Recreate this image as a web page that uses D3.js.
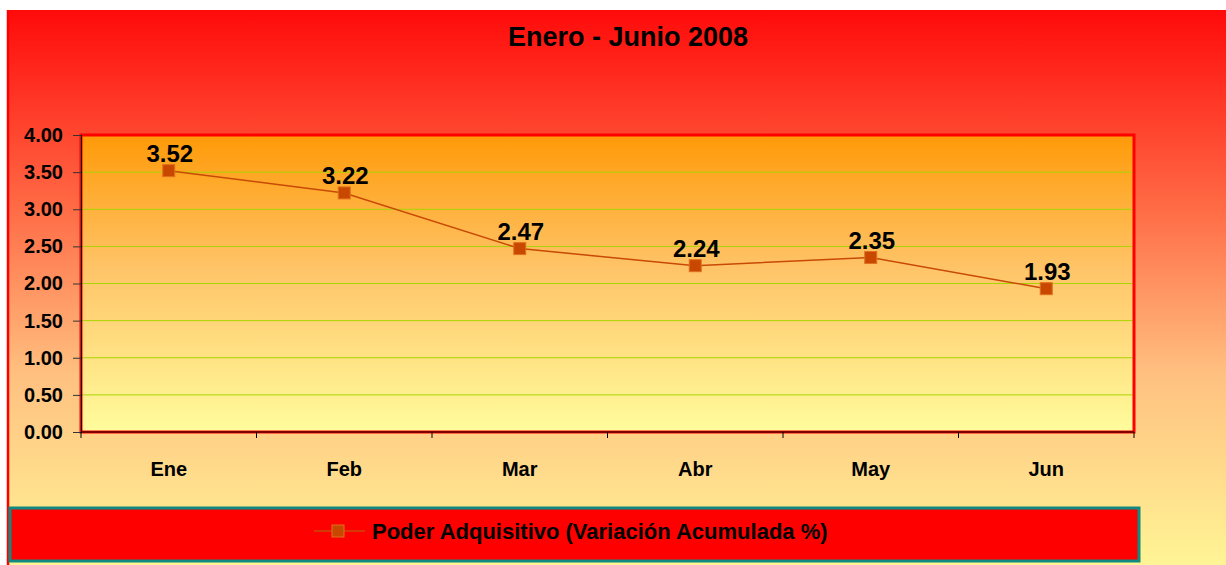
<!DOCTYPE html>
<html>
<head>
<meta charset="utf-8">
<script src="https://cdn.jsdelivr.net/npm/d3@7"></script>
<style>
  body { margin: 0; background: #fff; }
  svg { display: block; font-family: Arial, "Liberation Sans", sans-serif; }
</style>
</head>
<body>
<svg id="chart" width="1226" height="565"></svg>
<script>
var title = "Enero - Junio 2008";
var seriesName = "Poder Adquisitivo (Variación Acumulada %)";
var months = ["Ene", "Feb", "Mar", "Abr", "May", "Jun"];
var values = [3.52, 3.22, 2.47, 2.24, 2.35, 1.93];
var yTicks = [0, 0.5, 1, 1.5, 2, 2.5, 3, 3.5, 4];

var svg = d3.select("#chart");
var defs = svg.append("defs");

var bgGrad = defs.append("linearGradient")
    .attr("id", "bg").attr("x1", 0).attr("y1", 0).attr("x2", 0).attr("y2", 1);
bgGrad.append("stop").attr("offset", "0%").attr("stop-color", "#ff0a0a");
bgGrad.append("stop").attr("offset", "35%").attr("stop-color", "#ff6a45");
bgGrad.append("stop").attr("offset", "65%").attr("stop-color", "#ffc080");
bgGrad.append("stop").attr("offset", "100%").attr("stop-color", "#fff696");

var plotGrad = defs.append("linearGradient")
    .attr("id", "plotbg").attr("x1", 0).attr("y1", 0).attr("x2", 0).attr("y2", 1);
plotGrad.append("stop").attr("offset", "0%").attr("stop-color", "#ff9a08");
plotGrad.append("stop").attr("offset", "45%").attr("stop-color", "#ffc468");
plotGrad.append("stop").attr("offset", "100%").attr("stop-color", "#fffc9c");

// outer chart area
svg.append("rect")
    .attr("x", 8).attr("y", 10).attr("width", 1230).attr("height", 560)
    .attr("fill", "url(#bg)");
svg.append("line")
    .attr("x1", 8).attr("x2", 8).attr("y1", 10).attr("y2", 565)
    .attr("stroke", "#ff0000").attr("stroke-width", 2.5);

svg.append("text")
    .attr("x", 628).attr("y", 46)
    .attr("text-anchor", "middle")
    .attr("font-size", 27).attr("font-weight", "bold")
    .text(title);

var margin = {left: 81, top: 135, right: 1134, bottom: 432};

var x = d3.scaleBand()
    .domain(months)
    .range([margin.left, margin.right]);

var y = d3.scaleLinear()
    .domain([0, 4])
    .range([margin.bottom, margin.top]);

svg.append("rect")
    .attr("x", margin.left).attr("y", margin.top)
    .attr("width", margin.right - margin.left)
    .attr("height", margin.bottom - margin.top)
    .attr("fill", "url(#plotbg)");

svg.append("g")
    .selectAll("line")
    .data(yTicks.filter(function(d) { return d > 0 && d < 4; }))
  .enter().append("line")
    .attr("x1", margin.left).attr("x2", margin.right)
    .attr("y1", function(d) { return y(d); })
    .attr("y2", function(d) { return y(d); })
    .attr("stroke", "#a8d400").attr("stroke-width", 1);

svg.append("rect")
    .attr("x", margin.left).attr("y", margin.top)
    .attr("width", margin.right - margin.left)
    .attr("height", margin.bottom - margin.top)
    .attr("fill", "none")
    .attr("stroke", "#ff0000").attr("stroke-width", 3);

// y axis
var yAxis = svg.append("g")
    .attr("transform", "translate(" + margin.left + ",0)")
    .call(d3.axisLeft(y).tickValues(yTicks).tickFormat(d3.format(".2f")).tickSize(8).tickPadding(10));
yAxis.select(".domain").attr("stroke", "#000").attr("stroke-width", 1);
yAxis.selectAll(".tick line").attr("stroke", "#333");
yAxis.selectAll("text")
    .attr("font-size", 20).attr("font-weight", "bold").attr("fill", "#000")
    .attr("font-family", "Arial, 'Liberation Sans', sans-serif");

// x axis, ticks at category boundaries
var xAxis = svg.append("g")
    .attr("transform", "translate(0," + margin.bottom + ")");
xAxis.append("line")
    .attr("x1", margin.left).attr("x2", margin.right)
    .attr("stroke", "#000");
xAxis.selectAll(".bound")
    .data(months.concat(["end"]))
  .enter().append("line")
    .attr("class", "bound")
    .attr("x1", function(d, i) { return i < months.length ? x(d) : margin.right; })
    .attr("x2", function(d, i) { return i < months.length ? x(d) : margin.right; })
    .attr("y1", 0).attr("y2", 6)
    .attr("stroke", "#000");
xAxis.selectAll("text")
    .data(months)
  .enter().append("text")
    .attr("x", function(d) { return x(d) + x.bandwidth() / 2; })
    .attr("y", 44)
    .attr("text-anchor", "middle")
    .attr("font-size", 20).attr("font-weight", "bold")
    .text(function(d) { return d; });

// series
var line = d3.line()
    .x(function(d, i) { return x(months[i]) + x.bandwidth() / 2; })
    .y(function(d) { return y(d); });

svg.append("path")
    .datum(values)
    .attr("d", line)
    .attr("fill", "none")
    .attr("stroke", "#c84a06").attr("stroke-width", 1.5);

svg.selectAll(".pt")
    .data(values)
  .enter().append("rect")
    .attr("class", "pt")
    .attr("x", function(d, i) { return x(months[i]) + x.bandwidth() / 2 - 6; })
    .attr("y", function(d) { return y(d) - 6; })
    .attr("width", 12).attr("height", 12)
    .attr("fill", "#c84800").attr("stroke", "#e07020").attr("stroke-width", 1);

svg.selectAll(".lbl")
    .data(values)
  .enter().append("text")
    .attr("class", "lbl")
    .attr("x", function(d, i) { return x(months[i]) + x.bandwidth() / 2 + 1; })
    .attr("y", function(d) { return y(d) - 9; })
    .attr("text-anchor", "middle")
    .attr("font-size", 24).attr("font-weight", "bold")
    .text(function(d) { return d3.format(".2f")(d); });

// legend
svg.append("rect")
    .attr("x", 10).attr("y", 508).attr("width", 1129).attr("height", 53)
    .attr("fill", "#ff0000")
    .attr("stroke", "#108a80").attr("stroke-width", 3);
svg.append("line")
    .attr("x1", 314).attr("x2", 365).attr("y1", 531).attr("y2", 531)
    .attr("stroke", "#c84a06").attr("stroke-width", 1.5);
svg.append("rect")
    .attr("x", 332).attr("y", 525).attr("width", 12).attr("height", 12)
    .attr("fill", "#c84800").attr("stroke", "#e07020");
svg.append("text")
    .attr("x", 372).attr("y", 539)
    .attr("font-size", 22).attr("font-weight", "bold")
    .text(seriesName);
</script>
</body>
</html>
